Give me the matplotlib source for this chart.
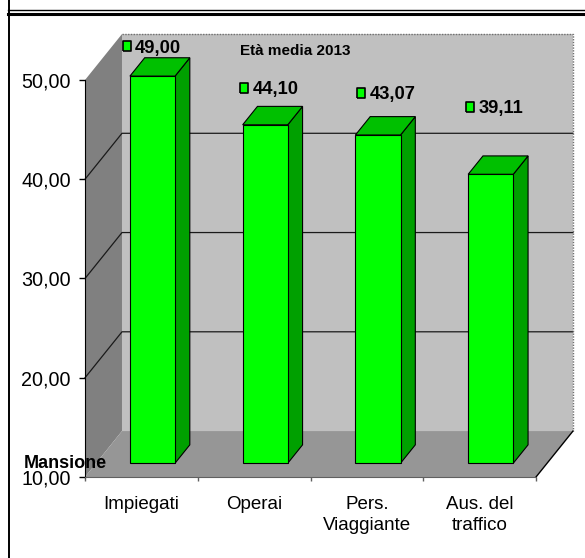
import matplotlib
matplotlib.use("Agg")
import matplotlib.pyplot as plt
from matplotlib.patches import Polygon
from matplotlib.lines import Line2D

categories = ["Impiegati", "Operai", "Pers.\nViaggiante", "Aus. del\ntraffico"]
eta_media = [49.00, 44.10, 43.07, 39.11]
y_ticks = [10, 20, 30, 40, 50]
chart_title = "Età media 2013"
axis_title = "Mansione"

# where each value label sits (x offset from category, y in axis units)
label_dx = [-0.13, -0.09, -0.05, -0.085]
label_y = [53.4, 49.2, 48.7, 47.3]

# oblique projection of the 3d box
DX, DY = 0.328, 4.63      # full depth offset (category units, value units)
D0, D1 = 0.3, 0.7         # bar front / back depth
BAR_W = 0.4
YMIN, YMAX = 10, 50
X0, X1 = -0.5, len(categories) - 0.5

plt.rcParams['font.family'] = ['Liberation Sans', 'DejaVu Sans']


def proj(x, v, d):
    return (x + d * DX, v + d * DY)


def fmt(v):
    return f"{v:.2f}".replace('.', ',')


fig = plt.figure(figsize=(5.85, 5.58), dpi=100)
ax = fig.add_axes([0, 0, 1, 1])
ax.set_xlim(-1.2539, 3.9346)
ax.set_ylim(1.839, 58.06)
ax.patch.set_visible(False)

# walls and floor
ax.add_patch(Polygon([proj(X0, YMIN, 1), proj(X1, YMIN, 1), proj(X1, YMAX, 1), proj(X0, YMAX, 1)],
                     fc='#C0C0C0', ec='none', zorder=1))
ax.add_patch(Polygon([proj(X0, YMIN, 0), proj(X0, YMAX, 0), proj(X0, YMAX, 1), proj(X0, YMIN, 1)],
                     fc='#808080', ec='none', zorder=1))
ax.add_patch(Polygon([proj(X0, YMIN, 0), proj(X1, YMIN, 0), proj(X1, YMIN, 1), proj(X0, YMIN, 1)],
                     fc='#969696', ec='none', zorder=1))

# gridlines across side wall and back wall
for t in y_ticks[1:-1]:
    pts = [proj(X0, t, 0), proj(X0, t, 1), proj(X1, t, 1)]
    ax.plot([p[0] for p in pts], [p[1] for p in pts], color='#1a1a1a', lw=0.9, zorder=2)

# wall outline
pts = [proj(X0, YMAX, 1), proj(X1, YMAX, 1), proj(X1, YMIN, 1)]
ax.plot([p[0] for p in pts], [p[1] for p in pts], color='#707070', lw=1.0,
        ls=(0, (1, 1)), zorder=2)
pts = [proj(X1, YMIN, 0), proj(X1, YMIN, 1)]
ax.plot([p[0] for p in pts], [p[1] for p in pts], color='black', lw=1.0, zorder=2)

# bars
for i, v in enumerate(eta_media):
    xl, xr = i - BAR_W / 2, i + BAR_W / 2
    front = [proj(xl, YMIN, D0), proj(xr, YMIN, D0), proj(xr, v, D0), proj(xl, v, D0)]
    top = [proj(xl, v, D0), proj(xr, v, D0), proj(xr, v, D1), proj(xl, v, D1)]
    side = [proj(xr, YMIN, D0), proj(xr, YMIN, D1), proj(xr, v, D1), proj(xr, v, D0)]
    ax.add_patch(Polygon(side, fc='#00A000', ec='black', lw=0.8, zorder=3))
    ax.add_patch(Polygon(top, fc='#00C000', ec='black', lw=0.8, zorder=3))
    ax.add_patch(Polygon(front, fc='#00FF00', ec='black', lw=0.8, zorder=4))

# value labels with legend key
key = [(-0.4, -0.5), (0.4, -0.5), (0.4, 0.5), (-0.4, 0.5), (-0.4, -0.5)]
for i, v in enumerate(eta_media):
    mx = i + label_dx[i]
    ax.plot(mx, label_y[i], marker=key, ms=7.5, mfc='#00FF00', mec='black', mew=1.2, zorder=5)
    ax.annotate(fmt(v), (mx, label_y[i]), xytext=(6, 0), textcoords='offset points',
                ha='left', va='center_baseline', fontsize=13.2, fontweight='bold', zorder=5)

# axes
for s in ('top', 'right'):
    ax.spines[s].set_visible(False)
ax.spines['left'].set_position(('data', X0))
ax.spines['left'].set_bounds(YMIN, YMAX)
ax.spines['left'].set_zorder(2)
ax.spines['bottom'].set_position(('data', YMIN))
ax.spines['bottom'].set_bounds(X0, X1)
ax.spines['bottom'].set_color('#606060')
ax.spines['bottom'].set_linestyle((0, (1, 1)))

ax.set_yticks(y_ticks, labels=[fmt(t) for t in y_ticks])
ax.tick_params(axis='y', direction='out', length=4.3, width=1.0, pad=5.8, labelsize=14.2)

ax.set_xticks([X0 + k for k in range(len(categories) + 1)], labels=[])
ax.set_xticks(range(len(categories)), labels=categories, minor=True)
ax.tick_params(axis='x', which='major', direction='out', length=3, width=1.0, color='#606060')
ax.tick_params(axis='x', which='minor', length=0, pad=13.5, labelsize=13.5)
for lbl in ax.get_xticklabels(minor=True):
    lbl.set_linespacing(1.35)

fig.text(295 / 585, 1 - 51 / 558, chart_title, ha='center', va='center',
         fontsize=11, fontweight='bold')
fig.text(65 / 585, 1 - 463 / 558, axis_title, ha='center', va='center',
         fontsize=13, fontweight='bold')

# outer frame
fig.add_artist(Line2D([8.5 / 585, 8.5 / 585], [0, 1], transform=fig.transFigure, color='black', lw=1.4))
fig.add_artist(Line2D([8 / 585, 1], [1 - 9.5 / 558] * 2, transform=fig.transFigure, color='black', lw=1.0))
fig.add_artist(Line2D([8 / 585, 1], [1 - 14 / 558] * 2, transform=fig.transFigure, color='black', lw=2.2))

fig.savefig("out.png", dpi=100)
